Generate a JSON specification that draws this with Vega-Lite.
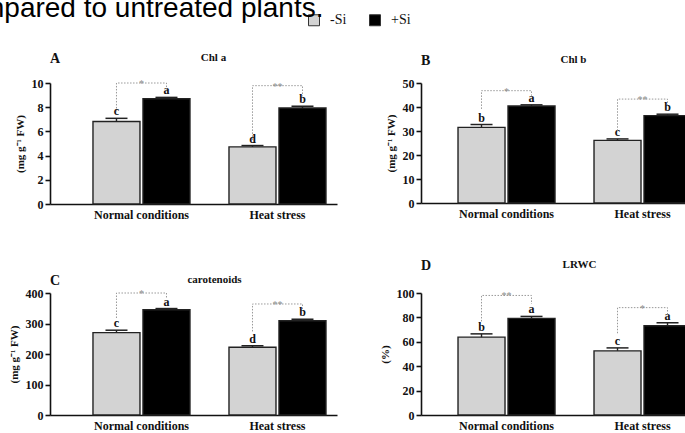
{
  "$schema": "https://vega.github.io/schema/vega-lite/v6.json",
  "padding": {"left": -19, "top": -5, "right": 0, "bottom": 0},
  "background": "white",
  "title": {"text": "mpared to untreated plants.", "anchor": "start", "frame": "group", "font": "Liberation Sans", "fontSize": 28, "fontWeight": "normal", "color": "#000", "dx": -69, "offset": -10},
  "datasets": {
    "bars": [
      {"panel": "A", "cond": "Normal conditions", "si": "-Si", "value": 6.82, "hi": 7.08, "letter": "c"},
      {"panel": "A", "cond": "Normal conditions", "si": "+Si", "value": 8.70, "hi": 8.81, "letter": "a"},
      {"panel": "A", "cond": "Heat stress", "si": "-Si", "value": 4.72, "hi": 4.83, "letter": "d"},
      {"panel": "A", "cond": "Heat stress", "si": "+Si", "value": 7.93, "hi": 8.08, "letter": "b"},
      {"panel": "B", "cond": "Normal conditions", "si": "-Si", "value": 31.5, "hi": 32.7, "letter": "b"},
      {"panel": "B", "cond": "Normal conditions", "si": "+Si", "value": 40.4, "hi": 40.9, "letter": "a"},
      {"panel": "B", "cond": "Heat stress", "si": "-Si", "value": 26.1, "hi": 26.7, "letter": "c"},
      {"panel": "B", "cond": "Heat stress", "si": "+Si", "value": 36.4, "hi": 37.0, "letter": "b"},
      {"panel": "C", "cond": "Normal conditions", "si": "-Si", "value": 270, "hi": 278, "letter": "c"},
      {"panel": "C", "cond": "Normal conditions", "si": "+Si", "value": 345, "hi": 349, "letter": "a"},
      {"panel": "C", "cond": "Heat stress", "si": "-Si", "value": 222, "hi": 227, "letter": "d"},
      {"panel": "C", "cond": "Heat stress", "si": "+Si", "value": 309, "hi": 314, "letter": "b"},
      {"panel": "D", "cond": "Normal conditions", "si": "-Si", "value": 63.8, "hi": 66.5, "letter": "b"},
      {"panel": "D", "cond": "Normal conditions", "si": "+Si", "value": 79.2, "hi": 80.8, "letter": "a"},
      {"panel": "D", "cond": "Heat stress", "si": "-Si", "value": 52.6, "hi": 55.0, "letter": "c"},
      {"panel": "D", "cond": "Heat stress", "si": "+Si", "value": 73.2, "hi": 75.6, "letter": "a"}
    ],
    "brackets": [
      {"panel": "A", "cond": "Normal conditions", "si": "-Si", "seq": 1, "level": 7.65},
      {"panel": "A", "cond": "Normal conditions", "si": "-Si", "seq": 2, "level": 10.0},
      {"panel": "A", "cond": "Normal conditions", "si": "+Si", "seq": 3, "level": 10.0},
      {"panel": "A", "cond": "Normal conditions", "si": "+Si", "seq": 4, "level": 9.45},
      {"panel": "A", "cond": "Heat stress", "si": "-Si", "seq": 1, "level": 5.3},
      {"panel": "A", "cond": "Heat stress", "si": "-Si", "seq": 2, "level": 9.78},
      {"panel": "A", "cond": "Heat stress", "si": "+Si", "seq": 3, "level": 9.78},
      {"panel": "A", "cond": "Heat stress", "si": "+Si", "seq": 4, "level": 8.9},
      {"panel": "B", "cond": "Normal conditions", "si": "-Si", "seq": 1, "level": 39.2},
      {"panel": "B", "cond": "Normal conditions", "si": "-Si", "seq": 2, "level": 46.8},
      {"panel": "B", "cond": "Normal conditions", "si": "+Si", "seq": 3, "level": 46.8},
      {"panel": "B", "cond": "Normal conditions", "si": "+Si", "seq": 4, "level": 44.7},
      {"panel": "B", "cond": "Heat stress", "si": "-Si", "seq": 1, "level": 30.1},
      {"panel": "B", "cond": "Heat stress", "si": "-Si", "seq": 2, "level": 43.3},
      {"panel": "B", "cond": "Heat stress", "si": "+Si", "seq": 3, "level": 43.3},
      {"panel": "B", "cond": "Heat stress", "si": "+Si", "seq": 4, "level": 40.8},
      {"panel": "C", "cond": "Normal conditions", "si": "-Si", "seq": 1, "level": 318},
      {"panel": "C", "cond": "Normal conditions", "si": "-Si", "seq": 2, "level": 400},
      {"panel": "C", "cond": "Normal conditions", "si": "+Si", "seq": 3, "level": 400},
      {"panel": "C", "cond": "Normal conditions", "si": "+Si", "seq": 4, "level": 381},
      {"panel": "C", "cond": "Heat stress", "si": "-Si", "seq": 1, "level": 274},
      {"panel": "C", "cond": "Heat stress", "si": "-Si", "seq": 2, "level": 364},
      {"panel": "C", "cond": "Heat stress", "si": "+Si", "seq": 3, "level": 364},
      {"panel": "C", "cond": "Heat stress", "si": "+Si", "seq": 4, "level": 345},
      {"panel": "D", "cond": "Normal conditions", "si": "-Si", "seq": 1, "level": 76.7},
      {"panel": "D", "cond": "Normal conditions", "si": "-Si", "seq": 2, "level": 98},
      {"panel": "D", "cond": "Normal conditions", "si": "+Si", "seq": 3, "level": 98},
      {"panel": "D", "cond": "Normal conditions", "si": "+Si", "seq": 4, "level": 91},
      {"panel": "D", "cond": "Heat stress", "si": "-Si", "seq": 1, "level": 67},
      {"panel": "D", "cond": "Heat stress", "si": "-Si", "seq": 2, "level": 88},
      {"panel": "D", "cond": "Heat stress", "si": "+Si", "seq": 3, "level": 88},
      {"panel": "D", "cond": "Heat stress", "si": "+Si", "seq": 4, "level": 82}
    ],
    "stars": [
      {"panel": "A", "cond": "Normal conditions", "level": 10.0, "label": "*"},
      {"panel": "A", "cond": "Heat stress", "level": 9.78, "label": "**"},
      {"panel": "B", "cond": "Normal conditions", "level": 46.8, "label": "*"},
      {"panel": "B", "cond": "Heat stress", "level": 43.3, "label": "**"},
      {"panel": "C", "cond": "Normal conditions", "level": 400, "label": "*"},
      {"panel": "C", "cond": "Heat stress", "level": 364, "label": "**"},
      {"panel": "D", "cond": "Normal conditions", "level": 98, "label": "**"},
      {"panel": "D", "cond": "Heat stress", "level": 88, "label": "*"}
    ]
  },
  "columns": 2,
  "align": "each",
  "spacing": {"row": 38, "column": 42},
  "concat": [
    {
      "width": 287, "height": 121,
      "title": {"text": "A", "anchor": "start", "frame": "group", "offset": -15},
      "layer": [
        {"data": {"name": "bars"}, "transform": [{"filter": "datum.panel === 'A'"}],
         "mark": {"type": "bar", "stroke": "#222", "strokeWidth": 1.4},
         "encoding": {
           "x": {"field": "cond", "type": "nominal", "scale": {"domain": ["Normal conditions", "Heat stress"], "paddingInner": 0.2868, "paddingOuter": 0.1985, "align": 0.796}, "axis": {"orient": "bottom", "title": null, "ticks": false, "labelAngle": 0, "labelPadding": 5}},
           "xOffset": {"field": "si", "type": "nominal", "scale": {"domain": ["-Si", "+Si"], "paddingInner": 0.06}},
           "y": {"field": "value", "type": "quantitative", "scale": {"domain": [0, 10], "nice": false}, "axis": {"values": [0, 2, 4, 6, 8, 10], "title": "(mg g⁻¹ FW)", "titlePadding": 6}},
           "color": {"field": "si", "type": "nominal", "scale": {"domain": ["-Si", "+Si"], "range": ["#d3d3d3", "#000000"]}, "legend": {"title": null}}
         }},
        {"data": {"name": "bars"}, "transform": [{"filter": "datum.panel === 'A'"}],
         "mark": {"type": "rule", "color": "#222", "strokeWidth": 1.4},
         "encoding": {
           "x": {"field": "cond", "type": "nominal", "scale": {"domain": ["Normal conditions", "Heat stress"], "paddingInner": 0.2868, "paddingOuter": 0.1985, "align": 0.796}, "axis": null},
           "xOffset": {"field": "si", "type": "nominal", "scale": {"domain": ["-Si", "+Si"], "paddingInner": 0.06}},
           "y": {"field": "value", "type": "quantitative", "scale": {"domain": [0, 10], "nice": false}, "axis": {"values": [0, 2, 4, 6, 8, 10], "title": "(mg g⁻¹ FW)", "titlePadding": 6}},
           "y2": {"field": "hi"}
         }},
        {"data": {"name": "bars"}, "transform": [{"filter": "datum.panel === 'A'"}],
         "mark": {"type": "tick", "color": "#222", "thickness": 1.5, "size": 22, "opacity": 1},
         "encoding": {
           "x": {"field": "cond", "type": "nominal", "scale": {"domain": ["Normal conditions", "Heat stress"], "paddingInner": 0.2868, "paddingOuter": 0.1985, "align": 0.796}, "axis": null},
           "xOffset": {"field": "si", "type": "nominal", "scale": {"domain": ["-Si", "+Si"], "paddingInner": 0.06}},
           "y": {"field": "hi", "type": "quantitative", "scale": {"domain": [0, 10], "nice": false}, "axis": {"values": [0, 2, 4, 6, 8, 10], "title": "(mg g⁻¹ FW)", "titlePadding": 6}}
         }},
        {"data": {"name": "bars"}, "transform": [{"filter": "datum.panel === 'A'"}],
         "mark": {"type": "text", "font": "Liberation Serif", "fontWeight": "bold", "fontSize": 12, "baseline": "alphabetic", "dy": -3, "color": "#111"},
         "encoding": {
           "x": {"field": "cond", "type": "nominal", "scale": {"domain": ["Normal conditions", "Heat stress"], "paddingInner": 0.2868, "paddingOuter": 0.1985, "align": 0.796}, "axis": {"orient": "top", "labels": false, "ticks": false, "domain": false, "title": "Chl a", "titleFontSize": 11, "titlePadding": 21, "titleX": 163, "titleAlign": "center"}},
           "xOffset": {"field": "si", "type": "nominal", "scale": {"domain": ["-Si", "+Si"], "paddingInner": 0.06}},
           "y": {"field": "hi", "type": "quantitative", "scale": {"domain": [0, 10], "nice": false}, "axis": {"values": [0, 2, 4, 6, 8, 10], "title": "(mg g⁻¹ FW)", "titlePadding": 6}},
           "text": {"field": "letter"}
         }},
        {"data": {"name": "brackets"}, "transform": [{"filter": "datum.panel === 'A'"}],
         "mark": {"type": "line", "color": "#999", "strokeWidth": 1, "strokeDash": [1.5, 1.5]},
         "encoding": {
           "x": {"field": "cond", "type": "nominal", "scale": {"domain": ["Normal conditions", "Heat stress"], "paddingInner": 0.2868, "paddingOuter": 0.1985, "align": 0.796}, "axis": null},
           "xOffset": {"field": "si", "type": "nominal", "scale": {"domain": ["-Si", "+Si"], "paddingInner": 0.06}},
           "y": {"field": "level", "type": "quantitative", "scale": {"domain": [0, 10], "nice": false}, "axis": {"values": [0, 2, 4, 6, 8, 10], "title": "(mg g⁻¹ FW)", "titlePadding": 6}},
           "detail": {"field": "cond"},
           "order": {"field": "seq"}
         }},
        {"data": {"name": "stars"}, "transform": [{"filter": "datum.panel === 'A'"}],
         "mark": {"type": "text", "font": "Liberation Serif", "fontSize": 10, "baseline": "alphabetic", "dy": 4, "color": "#888"},
         "encoding": {
           "x": {"field": "cond", "type": "nominal", "scale": {"domain": ["Normal conditions", "Heat stress"], "paddingInner": 0.2868, "paddingOuter": 0.1985, "align": 0.796}, "axis": null},
           "y": {"field": "level", "type": "quantitative", "scale": {"domain": [0, 10], "nice": false}, "axis": {"values": [0, 2, 4, 6, 8, 10], "title": "(mg g⁻¹ FW)", "titlePadding": 6}},
           "text": {"field": "label"}
         }}
      ],
      "resolve": {"axis": {"x": "independent"}}
    },
    {
      "width": 272, "height": 120,
      "title": {"text": "B", "anchor": "start", "frame": "group", "offset": -15},
      "layer": [
        {"data": {"name": "bars"}, "transform": [{"filter": "datum.panel === 'B'"}],
         "mark": {"type": "bar", "stroke": "#222", "strokeWidth": 1.4},
         "encoding": {
           "x": {"field": "cond", "type": "nominal", "scale": {"domain": ["Normal conditions", "Heat stress"], "paddingInner": 0.2868, "paddingOuter": 0.1434, "align": 0.949}, "axis": {"orient": "bottom", "title": null, "ticks": false, "labelAngle": 0, "labelPadding": 5}},
           "xOffset": {"field": "si", "type": "nominal", "scale": {"domain": ["-Si", "+Si"], "paddingInner": 0.06}},
           "y": {"field": "value", "type": "quantitative", "scale": {"domain": [0, 50], "nice": false}, "axis": {"values": [0, 10, 20, 30, 40, 50], "title": "(mg g⁻¹ FW)", "titlePadding": 6}},
           "color": {"field": "si", "type": "nominal", "scale": {"domain": ["-Si", "+Si"], "range": ["#d3d3d3", "#000000"]}, "legend": {"title": null}}
         }},
        {"data": {"name": "bars"}, "transform": [{"filter": "datum.panel === 'B'"}],
         "mark": {"type": "rule", "color": "#222", "strokeWidth": 1.4},
         "encoding": {
           "x": {"field": "cond", "type": "nominal", "scale": {"domain": ["Normal conditions", "Heat stress"], "paddingInner": 0.2868, "paddingOuter": 0.1434, "align": 0.949}, "axis": null},
           "xOffset": {"field": "si", "type": "nominal", "scale": {"domain": ["-Si", "+Si"], "paddingInner": 0.06}},
           "y": {"field": "value", "type": "quantitative", "scale": {"domain": [0, 50], "nice": false}, "axis": {"values": [0, 10, 20, 30, 40, 50], "title": "(mg g⁻¹ FW)", "titlePadding": 6}},
           "y2": {"field": "hi"}
         }},
        {"data": {"name": "bars"}, "transform": [{"filter": "datum.panel === 'B'"}],
         "mark": {"type": "tick", "color": "#222", "thickness": 1.5, "size": 22, "opacity": 1},
         "encoding": {
           "x": {"field": "cond", "type": "nominal", "scale": {"domain": ["Normal conditions", "Heat stress"], "paddingInner": 0.2868, "paddingOuter": 0.1434, "align": 0.949}, "axis": null},
           "xOffset": {"field": "si", "type": "nominal", "scale": {"domain": ["-Si", "+Si"], "paddingInner": 0.06}},
           "y": {"field": "hi", "type": "quantitative", "scale": {"domain": [0, 50], "nice": false}, "axis": {"values": [0, 10, 20, 30, 40, 50], "title": "(mg g⁻¹ FW)", "titlePadding": 6}}
         }},
        {"data": {"name": "bars"}, "transform": [{"filter": "datum.panel === 'B'"}],
         "mark": {"type": "text", "font": "Liberation Serif", "fontWeight": "bold", "fontSize": 12, "baseline": "alphabetic", "dy": -3, "color": "#111"},
         "encoding": {
           "x": {"field": "cond", "type": "nominal", "scale": {"domain": ["Normal conditions", "Heat stress"], "paddingInner": 0.2868, "paddingOuter": 0.1434, "align": 0.949}, "axis": {"orient": "top", "labels": false, "ticks": false, "domain": false, "title": "Chl b", "titleFontSize": 11, "titlePadding": 19, "titleX": 152, "titleAlign": "center"}},
           "xOffset": {"field": "si", "type": "nominal", "scale": {"domain": ["-Si", "+Si"], "paddingInner": 0.06}},
           "y": {"field": "hi", "type": "quantitative", "scale": {"domain": [0, 50], "nice": false}, "axis": {"values": [0, 10, 20, 30, 40, 50], "title": "(mg g⁻¹ FW)", "titlePadding": 6}},
           "text": {"field": "letter"}
         }},
        {"data": {"name": "brackets"}, "transform": [{"filter": "datum.panel === 'B'"}],
         "mark": {"type": "line", "color": "#999", "strokeWidth": 1, "strokeDash": [1.5, 1.5]},
         "encoding": {
           "x": {"field": "cond", "type": "nominal", "scale": {"domain": ["Normal conditions", "Heat stress"], "paddingInner": 0.2868, "paddingOuter": 0.1434, "align": 0.949}, "axis": null},
           "xOffset": {"field": "si", "type": "nominal", "scale": {"domain": ["-Si", "+Si"], "paddingInner": 0.06}},
           "y": {"field": "level", "type": "quantitative", "scale": {"domain": [0, 50], "nice": false}, "axis": {"values": [0, 10, 20, 30, 40, 50], "title": "(mg g⁻¹ FW)", "titlePadding": 6}},
           "detail": {"field": "cond"},
           "order": {"field": "seq"}
         }},
        {"data": {"name": "stars"}, "transform": [{"filter": "datum.panel === 'B'"}],
         "mark": {"type": "text", "font": "Liberation Serif", "fontSize": 10, "baseline": "alphabetic", "dy": 4, "color": "#888"},
         "encoding": {
           "x": {"field": "cond", "type": "nominal", "scale": {"domain": ["Normal conditions", "Heat stress"], "paddingInner": 0.2868, "paddingOuter": 0.1434, "align": 0.949}, "axis": null},
           "y": {"field": "level", "type": "quantitative", "scale": {"domain": [0, 50], "nice": false}, "axis": {"values": [0, 10, 20, 30, 40, 50], "title": "(mg g⁻¹ FW)", "titlePadding": 6}},
           "text": {"field": "label"}
         }}
      ],
      "resolve": {"axis": {"x": "independent"}}
    },
    {
      "width": 287, "height": 122,
      "title": {"text": "C", "anchor": "start", "frame": "group", "offset": -15},
      "layer": [
        {"data": {"name": "bars"}, "transform": [{"filter": "datum.panel === 'C'"}],
         "mark": {"type": "bar", "stroke": "#222", "strokeWidth": 1.4},
         "encoding": {
           "x": {"field": "cond", "type": "nominal", "scale": {"domain": ["Normal conditions", "Heat stress"], "paddingInner": 0.2868, "paddingOuter": 0.1985, "align": 0.796}, "axis": {"orient": "bottom", "title": null, "ticks": false, "labelAngle": 0, "labelPadding": 5}},
           "xOffset": {"field": "si", "type": "nominal", "scale": {"domain": ["-Si", "+Si"], "paddingInner": 0.06}},
           "y": {"field": "value", "type": "quantitative", "scale": {"domain": [0, 400], "nice": false}, "axis": {"values": [0, 100, 200, 300, 400], "title": "(mg g⁻¹ FW)", "titlePadding": 6}},
           "color": {"field": "si", "type": "nominal", "scale": {"domain": ["-Si", "+Si"], "range": ["#d3d3d3", "#000000"]}, "legend": {"title": null}}
         }},
        {"data": {"name": "bars"}, "transform": [{"filter": "datum.panel === 'C'"}],
         "mark": {"type": "rule", "color": "#222", "strokeWidth": 1.4},
         "encoding": {
           "x": {"field": "cond", "type": "nominal", "scale": {"domain": ["Normal conditions", "Heat stress"], "paddingInner": 0.2868, "paddingOuter": 0.1985, "align": 0.796}, "axis": null},
           "xOffset": {"field": "si", "type": "nominal", "scale": {"domain": ["-Si", "+Si"], "paddingInner": 0.06}},
           "y": {"field": "value", "type": "quantitative", "scale": {"domain": [0, 400], "nice": false}, "axis": {"values": [0, 100, 200, 300, 400], "title": "(mg g⁻¹ FW)", "titlePadding": 6}},
           "y2": {"field": "hi"}
         }},
        {"data": {"name": "bars"}, "transform": [{"filter": "datum.panel === 'C'"}],
         "mark": {"type": "tick", "color": "#222", "thickness": 1.5, "size": 22, "opacity": 1},
         "encoding": {
           "x": {"field": "cond", "type": "nominal", "scale": {"domain": ["Normal conditions", "Heat stress"], "paddingInner": 0.2868, "paddingOuter": 0.1985, "align": 0.796}, "axis": null},
           "xOffset": {"field": "si", "type": "nominal", "scale": {"domain": ["-Si", "+Si"], "paddingInner": 0.06}},
           "y": {"field": "hi", "type": "quantitative", "scale": {"domain": [0, 400], "nice": false}, "axis": {"values": [0, 100, 200, 300, 400], "title": "(mg g⁻¹ FW)", "titlePadding": 6}}
         }},
        {"data": {"name": "bars"}, "transform": [{"filter": "datum.panel === 'C'"}],
         "mark": {"type": "text", "font": "Liberation Serif", "fontWeight": "bold", "fontSize": 12, "baseline": "alphabetic", "dy": -3, "color": "#111"},
         "encoding": {
           "x": {"field": "cond", "type": "nominal", "scale": {"domain": ["Normal conditions", "Heat stress"], "paddingInner": 0.2868, "paddingOuter": 0.1985, "align": 0.796}, "axis": {"orient": "top", "labels": false, "ticks": false, "domain": false, "title": "carotenoids", "titleFontSize": 11, "titlePadding": 9, "titleX": 164, "titleAlign": "center"}},
           "xOffset": {"field": "si", "type": "nominal", "scale": {"domain": ["-Si", "+Si"], "paddingInner": 0.06}},
           "y": {"field": "hi", "type": "quantitative", "scale": {"domain": [0, 400], "nice": false}, "axis": {"values": [0, 100, 200, 300, 400], "title": "(mg g⁻¹ FW)", "titlePadding": 6}},
           "text": {"field": "letter"}
         }},
        {"data": {"name": "brackets"}, "transform": [{"filter": "datum.panel === 'C'"}],
         "mark": {"type": "line", "color": "#999", "strokeWidth": 1, "strokeDash": [1.5, 1.5]},
         "encoding": {
           "x": {"field": "cond", "type": "nominal", "scale": {"domain": ["Normal conditions", "Heat stress"], "paddingInner": 0.2868, "paddingOuter": 0.1985, "align": 0.796}, "axis": null},
           "xOffset": {"field": "si", "type": "nominal", "scale": {"domain": ["-Si", "+Si"], "paddingInner": 0.06}},
           "y": {"field": "level", "type": "quantitative", "scale": {"domain": [0, 400], "nice": false}, "axis": {"values": [0, 100, 200, 300, 400], "title": "(mg g⁻¹ FW)", "titlePadding": 6}},
           "detail": {"field": "cond"},
           "order": {"field": "seq"}
         }},
        {"data": {"name": "stars"}, "transform": [{"filter": "datum.panel === 'C'"}],
         "mark": {"type": "text", "font": "Liberation Serif", "fontSize": 10, "baseline": "alphabetic", "dy": 4, "color": "#888"},
         "encoding": {
           "x": {"field": "cond", "type": "nominal", "scale": {"domain": ["Normal conditions", "Heat stress"], "paddingInner": 0.2868, "paddingOuter": 0.1985, "align": 0.796}, "axis": null},
           "y": {"field": "level", "type": "quantitative", "scale": {"domain": [0, 400], "nice": false}, "axis": {"values": [0, 100, 200, 300, 400], "title": "(mg g⁻¹ FW)", "titlePadding": 6}},
           "text": {"field": "label"}
         }}
      ],
      "resolve": {"axis": {"x": "independent"}}
    },
    {
      "width": 272, "height": 122,
      "title": {"text": "D", "anchor": "start", "frame": "group", "offset": -15},
      "layer": [
        {"data": {"name": "bars"}, "transform": [{"filter": "datum.panel === 'D'"}],
         "mark": {"type": "bar", "stroke": "#222", "strokeWidth": 1.4},
         "encoding": {
           "x": {"field": "cond", "type": "nominal", "scale": {"domain": ["Normal conditions", "Heat stress"], "paddingInner": 0.2868, "paddingOuter": 0.1434, "align": 0.949}, "axis": {"orient": "bottom", "title": null, "ticks": false, "labelAngle": 0, "labelPadding": 5}},
           "xOffset": {"field": "si", "type": "nominal", "scale": {"domain": ["-Si", "+Si"], "paddingInner": 0.06}},
           "y": {"field": "value", "type": "quantitative", "scale": {"domain": [0, 100], "nice": false}, "axis": {"values": [0, 20, 40, 60, 80, 100], "title": "(%)", "titlePadding": 6}},
           "color": {"field": "si", "type": "nominal", "scale": {"domain": ["-Si", "+Si"], "range": ["#d3d3d3", "#000000"]}, "legend": {"title": null}}
         }},
        {"data": {"name": "bars"}, "transform": [{"filter": "datum.panel === 'D'"}],
         "mark": {"type": "rule", "color": "#222", "strokeWidth": 1.4},
         "encoding": {
           "x": {"field": "cond", "type": "nominal", "scale": {"domain": ["Normal conditions", "Heat stress"], "paddingInner": 0.2868, "paddingOuter": 0.1434, "align": 0.949}, "axis": null},
           "xOffset": {"field": "si", "type": "nominal", "scale": {"domain": ["-Si", "+Si"], "paddingInner": 0.06}},
           "y": {"field": "value", "type": "quantitative", "scale": {"domain": [0, 100], "nice": false}, "axis": {"values": [0, 20, 40, 60, 80, 100], "title": "(%)", "titlePadding": 6}},
           "y2": {"field": "hi"}
         }},
        {"data": {"name": "bars"}, "transform": [{"filter": "datum.panel === 'D'"}],
         "mark": {"type": "tick", "color": "#222", "thickness": 1.5, "size": 22, "opacity": 1},
         "encoding": {
           "x": {"field": "cond", "type": "nominal", "scale": {"domain": ["Normal conditions", "Heat stress"], "paddingInner": 0.2868, "paddingOuter": 0.1434, "align": 0.949}, "axis": null},
           "xOffset": {"field": "si", "type": "nominal", "scale": {"domain": ["-Si", "+Si"], "paddingInner": 0.06}},
           "y": {"field": "hi", "type": "quantitative", "scale": {"domain": [0, 100], "nice": false}, "axis": {"values": [0, 20, 40, 60, 80, 100], "title": "(%)", "titlePadding": 6}}
         }},
        {"data": {"name": "bars"}, "transform": [{"filter": "datum.panel === 'D'"}],
         "mark": {"type": "text", "font": "Liberation Serif", "fontWeight": "bold", "fontSize": 12, "baseline": "alphabetic", "dy": -3, "color": "#111"},
         "encoding": {
           "x": {"field": "cond", "type": "nominal", "scale": {"domain": ["Normal conditions", "Heat stress"], "paddingInner": 0.2868, "paddingOuter": 0.1434, "align": 0.949}, "axis": {"orient": "top", "labels": false, "ticks": false, "domain": false, "title": "LRWC", "titleFontSize": 11, "titlePadding": 24, "titleX": 158, "titleAlign": "center"}},
           "xOffset": {"field": "si", "type": "nominal", "scale": {"domain": ["-Si", "+Si"], "paddingInner": 0.06}},
           "y": {"field": "hi", "type": "quantitative", "scale": {"domain": [0, 100], "nice": false}, "axis": {"values": [0, 20, 40, 60, 80, 100], "title": "(%)", "titlePadding": 6}},
           "text": {"field": "letter"}
         }},
        {"data": {"name": "brackets"}, "transform": [{"filter": "datum.panel === 'D'"}],
         "mark": {"type": "line", "color": "#999", "strokeWidth": 1, "strokeDash": [1.5, 1.5]},
         "encoding": {
           "x": {"field": "cond", "type": "nominal", "scale": {"domain": ["Normal conditions", "Heat stress"], "paddingInner": 0.2868, "paddingOuter": 0.1434, "align": 0.949}, "axis": null},
           "xOffset": {"field": "si", "type": "nominal", "scale": {"domain": ["-Si", "+Si"], "paddingInner": 0.06}},
           "y": {"field": "level", "type": "quantitative", "scale": {"domain": [0, 100], "nice": false}, "axis": {"values": [0, 20, 40, 60, 80, 100], "title": "(%)", "titlePadding": 6}},
           "detail": {"field": "cond"},
           "order": {"field": "seq"}
         }},
        {"data": {"name": "stars"}, "transform": [{"filter": "datum.panel === 'D'"}],
         "mark": {"type": "text", "font": "Liberation Serif", "fontSize": 10, "baseline": "alphabetic", "dy": 4, "color": "#888"},
         "encoding": {
           "x": {"field": "cond", "type": "nominal", "scale": {"domain": ["Normal conditions", "Heat stress"], "paddingInner": 0.2868, "paddingOuter": 0.1434, "align": 0.949}, "axis": null},
           "y": {"field": "level", "type": "quantitative", "scale": {"domain": [0, 100], "nice": false}, "axis": {"values": [0, 20, 40, 60, 80, 100], "title": "(%)", "titlePadding": 6}},
           "text": {"field": "label"}
         }}
      ],
      "resolve": {"axis": {"x": "independent"}}
    }
  ],
  "config": {
    "view": {"stroke": null},
    "font": "Liberation Serif",
    "title": {"font": "Liberation Serif", "fontSize": 14, "fontWeight": "bold", "color": "#111"},
    "axis": {"grid": false, "labelFont": "Liberation Serif", "labelFontWeight": "bold", "labelFontSize": 12, "labelColor": "#111", "titleFont": "Liberation Serif", "titleFontWeight": "bold", "titleFontSize": 11, "titleColor": "#111", "domainColor": "#111", "domainWidth": 1.6, "tickColor": "#111", "tickWidth": 1.6, "tickSize": 5, "labelPadding": 2},
    "legend": {"orient": "none", "legendX": 257, "legendY": -70, "direction": "horizontal", "symbolType": "square", "symbolSize": 121, "symbolStrokeColor": "#333", "symbolStrokeWidth": 1, "symbolOpacity": 1, "labelFont": "Liberation Serif", "labelFontSize": 14, "labelColor": "#111", "labelOffset": 9, "columnPadding": 20}
  }
}
